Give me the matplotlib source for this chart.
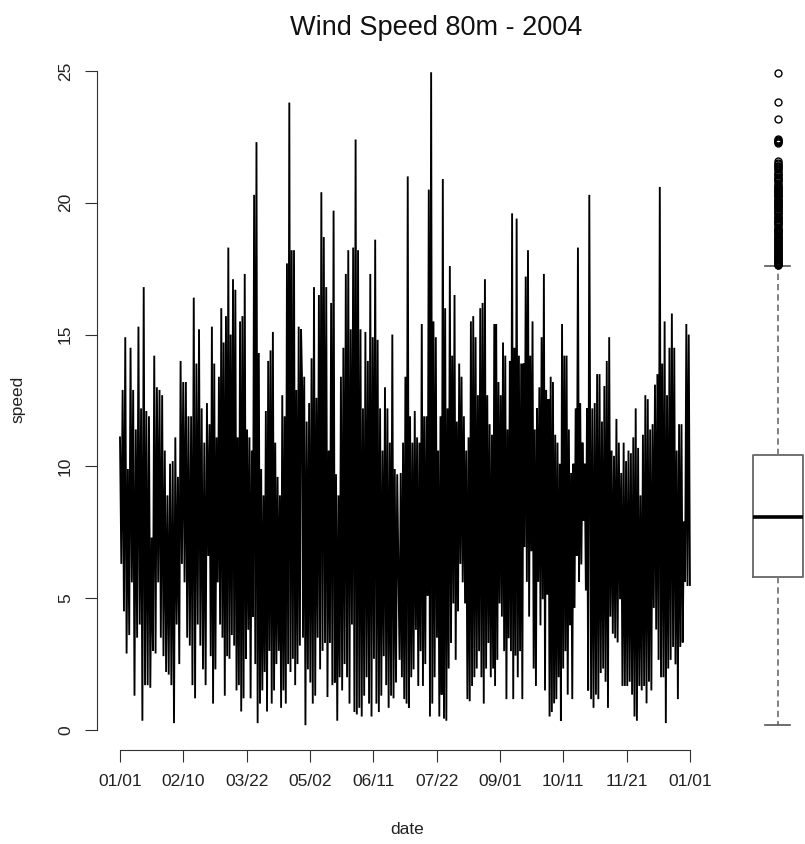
import matplotlib
matplotlib.use("Agg")
import matplotlib.pyplot as plt
import matplotlib.dates as mdates
import pandas as pd

plt.rcParams['font.family'] = ['Liberation Sans', 'DejaVu Sans']

# ---------------- data ----------------
title = "Wind Speed 80m - 2004"
x_label = "date"
y_label = "speed"
year_start = "2004-01-01"
year_end = "2005-01-01"
date_tick_labels = ["01/01", "02/10", "03/22", "05/02", "06/11",
                    "07/22", "09/01", "10/11", "11/21", "01/01"]
speed_ticks = [0, 5, 10, 15, 20, 25]

# successive peaks / troughs of the hourly speed,
# grouped in ~two-month periods
period_bounds = [("2004-01-01 00:00", "2004-02-26 16:00"),
                 ("2004-02-27 12:00", "2004-04-27 00:00"),
                 ("2004-04-27 12:00", "2004-06-27 00:00"),
                 ("2004-06-28 12:00", "2004-08-28 08:00"),
                 ("2004-08-28 20:00", "2004-10-28 08:00"),
                 ("2004-10-29 12:00", "2004-12-31 23:00")]

speed_p1 = [11.1, 6.3, 12.9, 4.5, 14.9, 2.9, 9.9, 3.6, 14.5, 5.6, 12.9, 1.3, 11.4, 3.5,
            15.3, 4.0, 12.2, 0.35, 16.8, 1.7, 12.1, 1.7, 11.9, 1.6, 7.3, 3.0, 14.2, 2.9,
            13.0, 5.6, 12.9, 3.5, 12.7, 2.8, 10.6, 2.2, 8.9, 2.1, 10.1, 1.7, 10.2, 0.26,
            11.1, 4.0, 9.6, 2.5, 14.0, 6.3, 13.2, 5.6, 13.2, 3.5, 11.9, 3.2, 11.9, 1.7,
            16.4, 1.2, 13.9, 4.0, 15.2, 3.2, 12.2, 2.3, 10.9, 1.7, 12.4, 6.6]
speed_p2 = [11.6, 2.8, 15.3, 1.0, 13.9, 2.3, 11.1, 5.6, 13.4, 4.0, 16.0, 3.5, 14.7, 1.3,
            15.7, 2.8, 18.3, 2.7, 15.0, 3.6, 17.1, 3.2, 16.7, 1.5, 11.1, 1.7, 15.5, 0.7,
            15.7, 1.2, 17.3, 2.7, 11.4, 3.8, 11.1, 1.2, 10.6, 4.3, 20.3, 2.5, 22.3, 0.26,
            14.3, 1.0, 9.9, 1.5, 8.9, 2.2, 12.1, 0.7, 14.0, 3.0, 14.4, 1.0, 15.1, 1.5,
            10.9, 2.5, 9.6, 3.0, 8.9, 0.84, 12.7, 1.5, 11.9, 1.0, 17.7, 2.5, 23.8, 2.2,
            18.2, 2.7, 18.2, 1.7, 12.9, 2.5, 15.3, 3.2, 15.2, 12.9]
speed_p3 = [3.5, 13.4, 0.18, 11.7, 2.3, 12.4, 1.8, 14.1, 1.0, 16.8, 1.3, 12.6, 3.5, 16.5,
            2.3, 20.4, 3.0, 18.7, 3.3, 16.8, 1.25, 10.6, 3.3, 16.2, 1.7, 19.7, 1.8, 9.7,
            0.35, 8.9, 2.0, 13.4, 1.5, 14.5, 2.5, 17.3, 2.0, 18.2, 1.0, 15.2, 4.0, 18.3,
            0.68, 22.4, 0.59, 18.2, 0.84, 15.2, 0.51, 12.2, 1.3, 15.1, 2.0, 14.0, 1.0, 17.3,
            0.51, 14.9, 2.7, 18.6, 1.0, 14.8, 0.68, 12.2, 1.3, 10.6, 2.8, 13.0, 1.7, 12.2,
            0.84, 10.9, 1.3, 15.0, 1.2, 9.9, 1.8, 9.7]
speed_p4 = [2.66, 9.75, 2.0, 10.9, 1.17, 13.4, 1.0, 21.0, 0.84, 11.9, 2.0, 10.9, 2.3, 12.1,
            3.8, 11.1, 1.67, 10.9, 2.99, 15.4, 1.67, 11.9, 2.5, 11.9, 5.1, 20.5, 0.51, 24.95,
            1.0, 15.5, 2.0, 14.9, 3.5, 10.6, 0.51, 11.9, 1.34, 20.9, 0.43, 16.0, 0.35, 12.2,
            2.33, 17.6, 3.3, 14.2, 4.8, 16.5, 2.66, 11.7, 4.5, 13.9, 6.3, 13.4, 5.6, 11.9,
            4.8, 10.6, 1.17, 11.1, 1.09, 15.5, 1.67, 15.7, 2.0, 14.9, 2.33, 12.7, 2.99, 16.0,
            2.0, 16.2, 1.0, 17.1, 2.33, 12.7, 3.3, 11.6, 2.0, 11.2, 2.33, 15.4]
speed_p5 = [1.67, 15.4, 2.66, 13.2, 4.8, 12.7, 4.3, 14.7, 2.99, 14.2, 1.17, 11.4, 3.48, 14.0,
            2.99, 19.6, 1.17, 14.5, 2.82, 19.4, 2.0, 14.2, 2.99, 13.9, 1.17, 13.9, 6.94, 17.2,
            5.62, 18.2, 4.3, 14.2, 6.78, 15.5, 2.33, 11.4, 1.67, 12.2, 5.62, 13.0, 3.97, 14.9,
            4.96, 17.3, 1.5, 12.9, 5.13, 12.55, 0.51, 13.4, 0.68, 13.2, 1.01, 11.2, 1.17, 10.9,
            2.0, 10.1, 0.35, 15.4, 2.33, 14.2, 2.99, 14.2, 1.34, 11.4, 3.97, 9.75, 1.17, 10.1,
            4.63, 12.2, 6.61, 18.3, 5.62, 12.4, 6.28, 10.9, 7.93, 10.1, 5.29, 12.2, 1.5, 20.3]
speed_p6 = [1.17, 12.2, 0.84, 12.4, 1.34, 13.5, 1.17, 13.5, 2.16, 11.7, 2.33, 13.05, 1.83, 14.0,
            0.84, 14.9, 4.3, 10.6, 3.65, 10.4, 3.48, 11.8, 3.32, 10.9, 4.96, 9.75, 1.67, 10.9,
            1.67, 10.2, 1.67, 10.6, 1.83, 10.5, 1.34, 11.1, 0.51, 12.2, 0.35, 10.7, 1.67, 8.9,
            1.5, 11.2, 1.67, 12.7, 1.01, 12.55, 1.83, 11.4, 1.5, 11.6, 4.63, 13.1, 3.81, 13.5,
            2.66, 20.6, 2.0, 13.9, 2.0, 15.5, 0.26, 12.7, 2.33, 14.5, 2.66, 15.8, 3.15, 14.5,
            2.49, 10.6, 1.17, 11.6, 3.15, 11.6, 3.32, 7.9, 5.62, 15.4, 5.46, 15.0, 5.5]

# boxplot summary of the speeds
box_median = 8.07
box_q1 = 5.82
box_q3 = 10.45
box_whisker_low = 0.2
box_whisker_high = 17.6
box_outliers = [24.93, 23.82, 23.16, 22.41, 22.38, 22.36, 22.33, 22.31, 22.27, 21.57, 21.52,
                21.46, 21.41, 21.38, 21.33, 21.27, 21.19, 21.14, 21.08, 21.04, 20.98, 20.93,
                20.89, 20.85, 20.82, 20.76, 20.69, 20.65, 20.61, 20.57, 20.53, 20.48, 20.46,
                20.41, 20.37, 20.33, 20.31, 20.27, 20.24, 20.18, 20.12, 20.10, 20.06, 20.03,
                19.98, 19.94, 19.91, 19.87, 19.84, 19.81, 19.79, 19.73, 19.68, 19.65, 19.62,
                19.57, 19.51, 19.47, 19.44, 19.39, 19.32, 19.29, 19.27, 19.22, 19.19, 19.16,
                19.09, 19.02, 18.99, 18.97, 18.94, 18.90, 18.86, 18.81, 18.77, 18.72, 18.69,
                18.66, 18.63, 18.58, 18.55, 18.51, 18.47, 18.43, 18.40, 18.37, 18.33, 18.29,
                18.26, 18.22, 18.17, 18.13, 18.09, 18.06, 18.04, 17.98, 17.95, 17.93, 17.88,
                17.85, 17.83, 17.79, 17.77, 17.72, 17.69, 17.67, 17.65, 17.62]

# ---------------- build series ----------------
segments = [speed_p1, speed_p2, speed_p3, speed_p4, speed_p5, speed_p6]
times = None
speeds = []
for (s, e), seg in zip(period_bounds, segments):
    t = pd.date_range(s, e, periods=len(seg))
    times = t if times is None else times.append(t)
    speeds.extend(seg)

# ---------------- figure ----------------
W, H = 805, 844
fig = plt.figure(figsize=(W / 100, H / 100), dpi=100)


def px_axes(x0, y0, x1, y1):
    return fig.add_axes([x0 / W, 1 - y1 / H, (x1 - x0) / W, (y1 - y0) / H])


ylim = (-0.76, 25.89)
axis_color = "#303030"

ax = px_axes(97.2, 47.5, 712.8, 750)
ax.plot(times, speeds, color="black", lw=1.35, solid_joinstyle="miter")

t0, t1 = pd.Timestamp(year_start), pd.Timestamp(year_end)
span = t1 - t0
ax.set_xlim(t0 - 0.04 * span, t1 + 0.04 * span)
ax.set_ylim(*ylim)

ax.set_xticks(pd.date_range(year_start, year_end, periods=len(date_tick_labels)))
ax.set_xticklabels(date_tick_labels)
ax.set_yticks(speed_ticks)
ax.set_yticklabels([str(v) for v in speed_ticks], rotation=90, va="center")

for side in ("top", "right"):
    ax.spines[side].set_visible(False)
ax.spines["left"].set_bounds(speed_ticks[0], speed_ticks[-1])
ax.spines["bottom"].set_bounds(mdates.date2num(t0), mdates.date2num(t1))
for side in ("left", "bottom"):
    ax.spines[side].set_color(axis_color)
    ax.spines[side].set_linewidth(0.8)
ax.tick_params(direction="out", length=8.5, width=0.8, color=axis_color,
               labelsize=12.5, labelcolor="#222222", pad=9)

fig.text(436.5 / W, 1 - 28 / H, title, ha="center", va="center", fontsize=19.5, color="#111111")
fig.text(407 / W, 1 - 830 / H, x_label, ha="center", va="center", fontsize=12.5, color="#222222")
fig.text(18 / W, 1 - 399 / H, y_label, ha="center", va="center", rotation=90,
         fontsize=12.5, color="#222222")

# boxplot panel
bx = px_axes(746.5, 47.5, 809, 750)
bx.bxp([dict(med=box_median, q1=box_q1, q3=box_q3, whislo=box_whisker_low,
             whishi=box_whisker_high, fliers=box_outliers)],
       positions=[1], widths=0.8, showfliers=True,
       boxprops=dict(color="#666666", lw=1.3),
       whiskerprops=dict(color="#777777", lw=1.3, linestyle=(0, (3.5, 2.2))),
       capprops=dict(color="#555555", lw=1.2),
       medianprops=dict(color="black", lw=2.6, solid_capstyle="butt"),
       flierprops=dict(marker="o", markerfacecolor="none", markeredgecolor="black",
                       markersize=5, markeredgewidth=1.0))
bx.set_xlim(0.5, 1.5)
bx.set_ylim(*ylim)
bx.axis("off")

fig.savefig("out.png", dpi=100)
